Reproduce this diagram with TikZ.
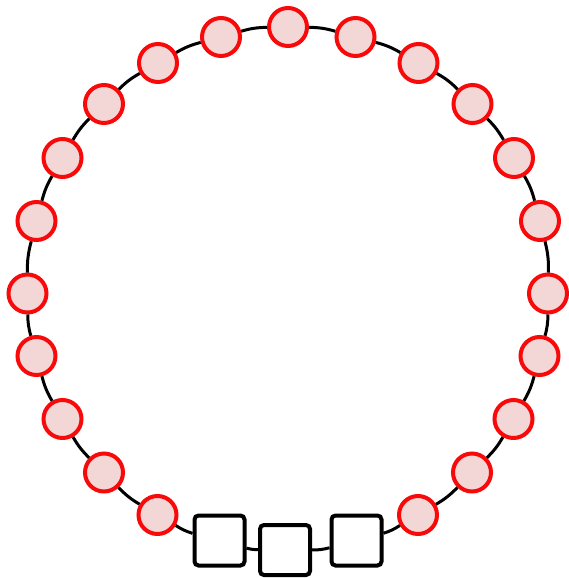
\documentclass[tikz,border=0pt]{standalone}
\definecolor{ringred}{HTML}{F80A0A}
\definecolor{ringpink}{HTML}{F3D7D7}
\begin{document}
\begin{tikzpicture}[x=1pt,y=-1pt,
  bead/.style={circle,draw=ringred,fill=ringpink,line width=4pt,minimum size=38pt,inner sep=0pt},
  block/.style={rectangle,rounded corners=4pt,draw=black,fill=white,line width=4pt,minimum size=50pt,inner sep=0pt},
  link/.style={draw=black,line width=3pt}]
\useasboundingbox (0,0) rectangle (568,578);
\node[bead] (n0) at (288,27) {};
\node[bead] (n1) at (355.5,37) {};
\node[bead] (n2) at (418.5,63) {};
\node[bead] (n3) at (472.5,104) {};
\node[bead] (n4) at (514,158) {};
\node[bead] (n5) at (540,221) {};
\node[bead] (n6) at (548,293.5) {};
\node[bead] (n7) at (539.5,356) {};
\node[bead] (n8) at (513.5,419) {};
\node[bead] (n9) at (472,472.5) {};
\node[bead] (n10) at (418,515) {};
\node[block] (n11) at (356.5,540.5) {};
\node[block] (n12) at (285,550) {};
\node[block] (n13) at (219.5,540.5) {};
\node[bead] (n14) at (157.5,515) {};
\node[bead] (n15) at (104,472.5) {};
\node[bead] (n16) at (62.5,419) {};
\node[bead] (n17) at (36.5,356) {};
\node[bead] (n18) at (27.5,293.5) {};
\node[bead] (n19) at (36.5,221) {};
\node[bead] (n20) at (62.5,158) {};
\node[bead] (n21) at (104,104) {};
\node[bead] (n22) at (158,63) {};
\node[bead] (n23) at (221,37) {};
\begin{scope}[on background layer/.style={}]
\end{scope}
\foreach \i in {0,...,23}{
  \pgfmathtruncatemacro{\j}{mod(\i+1,24)}
  \draw[link] (n\i) to[bend left=7.5] (n\j);
}
\end{tikzpicture}
\end{document}
